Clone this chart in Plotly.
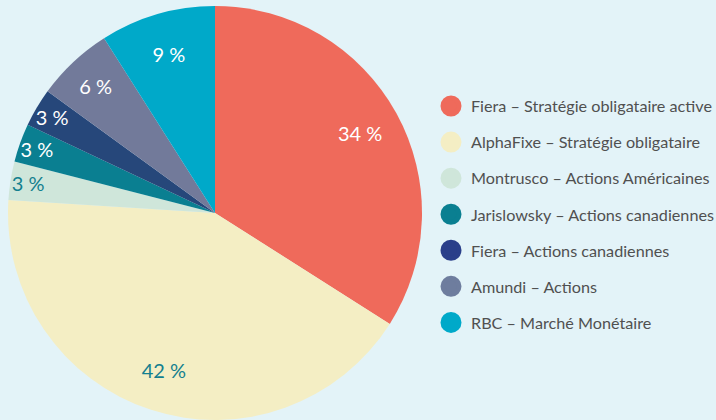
import plotly.graph_objects as go

labels = [
    "Fiera – Stratégie obligataire active",
    "AlphaFixe – Stratégie obligataire",
    "Montrusco – Actions Américaines",
    "Jarislowsky – Actions canadiennes",
    "Fiera – Actions canadiennes",
    "Amundi – Actions",
    "RBC – Marché Monétaire",
]
values = [34, 42, 3, 3, 3, 6, 9]
colors = ["#EF6A5B", "#F4EEC4", "#CFE6DA", "#0A7F91", "#26477A", "#727A9A", "#00A9C9"]
legend_colors = ["#EF6A5B", "#F4EEC4", "#CFE6DA", "#0A7F91", "#2A3F8A", "#6E7D9E", "#00A9C9"]
text_colors = ["#FFFFFF", "#13808F", "#13808F", "#FFFFFF", "#FFFFFF", "#FFFFFF", "#FFFFFF"]

W, H = 716, 420
dom = dict(x=[8 / W, 422 / W], y=[0, 414 / H])
fig = go.Figure()
# filled pie
fig.add_trace(go.Pie(
    labels=labels, values=values, sort=False, direction="clockwise", rotation=0,
    marker=dict(colors=colors, line=dict(width=0)),
    textinfo="none", showlegend=False, hoverinfo="label+percent", domain=dom,
))
# transparent ring carrying the percentage labels near the outer edge
fig.add_trace(go.Pie(
    labels=labels, values=values, sort=False, direction="clockwise", rotation=0,
    hole=0.6,
    marker=dict(colors=["rgba(0,0,0,0)"] * len(values), line=dict(width=0)),
    texttemplate="%{value} %", textposition="inside", insidetextorientation="horizontal",
    textfont=dict(family="Lato", size=20, color=text_colors),
    showlegend=False, hoverinfo="skip", domain=dom,
))
for i, lab in enumerate(labels):
    fig.add_trace(go.Scatter(
        x=[None], y=[None], mode="markers", name=lab, legendgroup=str(i),
        marker=dict(symbol="circle", size=16, color=legend_colors[i],
                    line=dict(width=5, color=legend_colors[i])),
    ))

fig.update_layout(
    width=W, height=H, margin=dict(l=0, r=0, t=0, b=0, autoexpand=False),
    paper_bgcolor="#E3F3F8", plot_bgcolor="#E3F3F8",
    xaxis=dict(visible=False), yaxis=dict(visible=False),
    font=dict(family="Lato", color="#505050"),
    uniformtext=dict(minsize=20, mode="show"),
    legend=dict(x=431 / W, y=1 - 89 / H, xanchor="left", yanchor="top",
                font=dict(family="Lato", size=16.2, color="#505050"),
                tracegroupgap=12, bgcolor="rgba(0,0,0,0)"),
)
fig.write_html("out.html")
